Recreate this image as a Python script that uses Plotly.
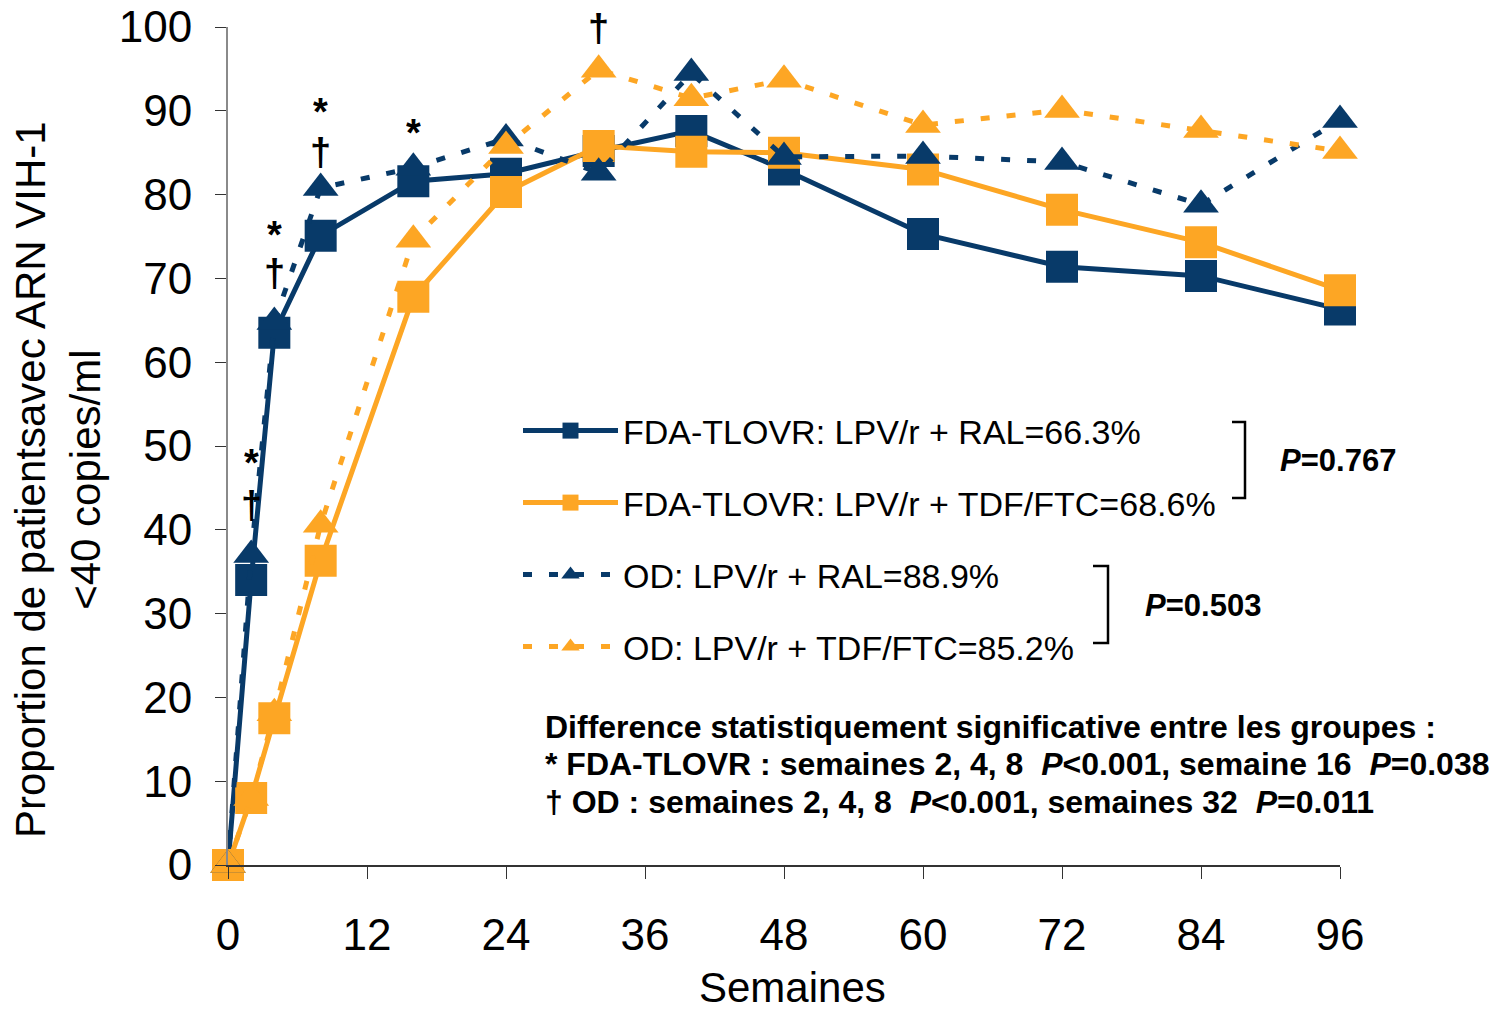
import plotly.graph_objects as go

# ---------------- data ----------------
weeks = [0, 2, 4, 8, 16, 24, 32, 40, 48, 60, 72, 84, 96]
fda_ral = [0, 34.0, 63.5, 75.1, 81.6, 82.5, 85.2, 87.6, 83.0, 75.3, 71.4, 70.3, 66.3]
fda_tdf = [0, 8.0, 17.5, 36.3, 67.8, 80.3, 85.8, 85.1, 85.0, 83.0, 78.2, 74.3, 68.6]
od_ral = [0, 37.0, 64.8, 80.8, 83.2, 86.7, 82.6, 94.5, 84.5, 84.6, 83.9, 78.8, 88.9]
od_tdf = [0, 8.0, 18.1, 40.6, 74.6, 85.8, 94.9, 91.5, 93.7, 88.3, 90.1, 87.7, 85.2]

series_names = [
    "FDA-TLOVR: LPV/r + RAL=66.3%",
    "FDA-TLOVR: LPV/r + TDF/FTC=68.6%",
    "OD: LPV/r + RAL=88.9%",
    "OD: LPV/r + TDF/FTC=85.2%",
]

x_ticks = [0, 12, 24, 36, 48, 60, 72, 84, 96]
y_ticks = [0, 10, 20, 30, 40, 50, 60, 70, 80, 90, 100]

# significance marks (week, value, symbol)
sig_weeks = [2, 2, 4, 4, 8, 8, 16, 32]
sig_vals = [48.0, 43.0, 75.2, 70.6, 89.8, 85.1, 87.4, 99.9]
sig_syms = ["*", "\u2020", "*", "\u2020", "*", "\u2020", "*", "\u2020"]

p_labels = ["<i>P</i>=0.767", "<i>P</i>=0.503"]
note_lines = [
    "Difference statistiquement significative entre les groupes :",
    "* FDA-TLOVR : semaines 2, 4, 8  <i>P</i>&lt;0.001, semaine 16  <i>P</i>=0.038",
    "\u2020 OD : semaines 2, 4, 8  <i>P</i>&lt;0.001, semaines 32  <i>P</i>=0.011",
]

# ---------------- style ----------------
NAVY = "#083A69"
ORANGE = "#FDA624"
FONT = "Liberation Sans Narrow, Arial Narrow, Liberation Sans, Arial, sans-serif"

W, H = 1495, 1014
PL, PR, PT, PB = 228, 1340, 27, 865  # plot area in page pixels
PW, PH = PR - PL, PB - PT
L, T = PL, PT
R = W - L - PW
B = H - T - PH


def pxx(p):
    return (p - PL) / PW


def pxy(p):
    return (PB - p) / PH


fig = go.Figure()

styles = [
    dict(color=NAVY, symbol="square", dash="solid", size=32, legend="legend"),
    dict(color=ORANGE, symbol="square", dash="solid", size=32, legend="legend2"),
    dict(color=NAVY, symbol="triangle-up", dash="9px,17px", size=31, legend="legend3"),
    dict(color=ORANGE, symbol="triangle-up", dash="9px,17px", size=31, legend="legend4"),
]

for name, vals, st in zip(series_names, [fda_ral, fda_tdf, od_ral, od_tdf], styles):
    fig.add_trace(go.Scatter(
        x=weeks, y=vals, name=name, mode="lines+markers",
        line=dict(color=st["color"], width=5, dash=st["dash"]),
        marker=dict(symbol=st["symbol"], size=st["size"], color=st["color"],
                    line=dict(width=0)),
        cliponaxis=False, legend=st["legend"],
    ))

legend_y_px = [431, 503, 575, 647]
legend_common = dict(
    x=pxx(518), xanchor="left", yanchor="middle",
    bgcolor="rgba(0,0,0,0)", itemwidth=95,
    font=dict(family=FONT, size=34, color="black"),
    itemclick=False, itemdoubleclick=False,
)
fig.update_layout(
    legend=dict(y=pxy(legend_y_px[0]), **legend_common),
    legend2=dict(y=pxy(legend_y_px[1]), **legend_common),
    legend3=dict(y=pxy(legend_y_px[2]), **legend_common),
    legend4=dict(y=pxy(legend_y_px[3]), **legend_common),
)

# significance annotations
for wx, vy, s in zip(sig_weeks, sig_vals, sig_syms):
    fig.add_annotation(x=wx, y=vy, xref="x", yref="y", text="<b>%s</b>" % s,
                       showarrow=False, height=34, valign="middle",
                       font=dict(family=FONT, size=38, color="black"))

# brackets
for (xl, xr, yt, yb) in [(1232, 1245, 422, 498), (1093, 1108, 566, 643)]:
    fig.add_shape(type="path", xref="paper", yref="paper",
                  path="M %f,%f L %f,%f L %f,%f L %f,%f" % (
                      pxx(xl), pxy(yt), pxx(xr), pxy(yt), pxx(xr), pxy(yb), pxx(xl), pxy(yb)),
                  line=dict(color="black", width=2.5))

for txt, (xl, yc) in zip(p_labels, [(1278, 460), (1143, 605)]):
    fig.add_annotation(x=pxx(xl), y=pxy(yc), xref="paper", yref="paper",
                       text="<b>%s</b>" % txt, showarrow=False, xanchor="left", yanchor="middle",
                       font=dict(family=FONT, size=31, color="black"))

for txt, yc in zip(note_lines, [727, 764, 802]):
    fig.add_annotation(x=pxx(543), y=pxy(yc), xref="paper", yref="paper",
                       text="<b>%s</b>" % txt, showarrow=False, xanchor="left", yanchor="middle",
                       font=dict(family=FONT, size=32, color="black"))

# axis titles
fig.add_annotation(x=pxx(58), y=pxy(480), xref="paper", yref="paper",
                   text="Proportion de patientsavec ARN VIH-1<br><40 copies/ml",
                   textangle=-90, showarrow=False, xanchor="center", yanchor="middle",
                   font=dict(family=FONT, size=42, color="black"))
fig.add_annotation(x=pxx(792), y=pxy(1013), xref="paper", yref="paper",
                   text="Semaines", showarrow=False, xanchor="center", yanchor="bottom",
                   font=dict(family=FONT, size=42, color="black"))

fig.update_xaxes(
    range=[0, 96], tickvals=x_ticks, ticktext=[str(v) for v in x_ticks],
    showgrid=False, zeroline=False, showline=True, linecolor="#333333", linewidth=1.5,
    ticks="outside", ticklen=12, tickcolor="#333333", tickwidth=1,
    tickfont=dict(family=FONT, size=44, color="black"), ticklabelstandoff=18,
    ticklabeloverflow="allow",
)
fig.update_yaxes(
    range=[0, 100], tickvals=y_ticks, ticktext=[str(v) for v in y_ticks],
    showgrid=False, zeroline=False, showline=True, linecolor="#8a8a8a", linewidth=2,
    ticks="outside", ticklen=11, tickcolor="#333333", tickwidth=1,
    tickfont=dict(family=FONT, size=44, color="black"), ticklabelstandoff=14,
    ticklabeloverflow="allow",
)

fig.update_layout(
    width=W, height=H,
    margin=dict(l=L, r=R, t=T, b=B, autoexpand=False),
    plot_bgcolor="white", paper_bgcolor="white",
    showlegend=True,
)

fig.write_html("out.html", config={"displayModeBar": False},
               post_script="document.body.style.margin='0px';")
